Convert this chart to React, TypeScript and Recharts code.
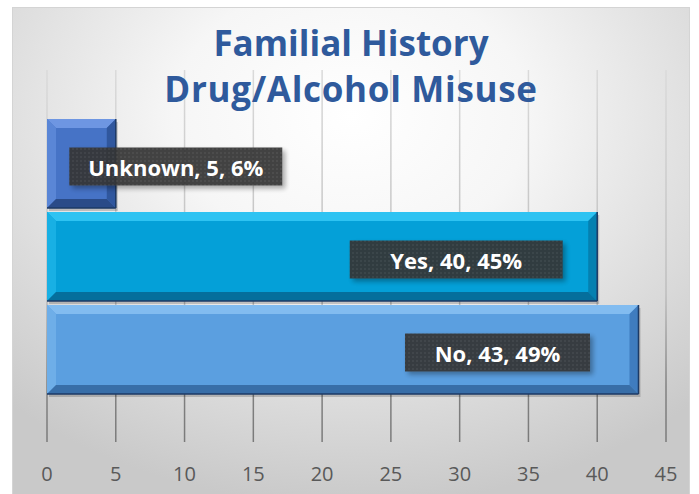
import React from 'react';
import { BarChart, Bar, XAxis, YAxis, CartesianGrid, LabelList } from 'recharts';

const CATEGORIES = ['Unknown', 'Yes', 'No'];
const COUNTS = [5, 40, 43];
const X_TICKS = [0, 5, 10, 15, 20, 25, 30, 35, 40, 45];
const TITLE_LINES = ['Familial History', 'Drug/Alcohol Misuse'];

const TOTAL = COUNTS.reduce((a, b) => a + b, 0);

const chartData = CATEGORIES.map((name, i) => ({
  name,
  value: COUNTS[i],
  pct: Math.round((COUNTS[i] / TOTAL) * 100),
}));

// bevel colours per bar: face, top, left, right, bottom
const BAR_STYLES = [
  { face: '#4673c6', top: '#6e96e2', left: '#5a86d6', right: '#30579e', bottom: '#2a4b88' },
  { face: '#04a0d8', top: '#2ec3f2', left: '#18b0e4', right: '#0580b0', bottom: '#056f9c' },
  { face: '#5b9fe0', top: '#82bcf0', left: '#6eaee8', right: '#3f7cbf', bottom: '#386ea8' },
];

const LABEL_BOX_WIDTH = [213, 213, 185];

const W = 699;
const H = 494;

const BevelBar = (props: any) => {
  const { x, y, width, height, index } = props;
  if (!width || !height) return null;
  const s = BAR_STYLES[index % BAR_STYLES.length];
  const b = Math.min(9, width / 2, height / 2);
  const x2 = x + width;
  const y2 = y + height;
  return (
    <g>
      <rect x={x + 2} y={y + 3} width={width} height={height} fill="#000" opacity={0.18} />
      <rect x={x} y={y} width={width} height={height} fill={s.face} />
      <polygon points={`${x},${y} ${x2},${y} ${x2 - b},${y + b} ${x + b},${y + b}`} fill={s.top} />
      <polygon points={`${x},${y} ${x + b},${y + b} ${x + b},${y2 - b} ${x},${y2}`} fill={s.left} />
      <polygon points={`${x2},${y} ${x2},${y2} ${x2 - b},${y2 - b} ${x2 - b},${y + b}`} fill={s.right} />
      <polygon points={`${x},${y2} ${x + b},${y2 - b} ${x2 - b},${y2 - b} ${x2},${y2}`} fill={s.bottom} />
      <line x1={x} y1={y2} x2={x2} y2={y2} stroke="#1d3a66" strokeWidth={1.5} />
      <line x1={x2} y1={y} x2={x2} y2={y2} stroke="#1d3a66" strokeWidth={1.5} />
    </g>
  );
};

const DataLabel = (props: any) => {
  const vb = props.viewBox || props;
  const x = vb.x ?? props.x;
  const y = vb.y ?? props.y;
  const width = vb.width ?? props.width;
  const height = vb.height ?? props.height;
  const index = props.index ?? 0;
  const d = chartData[index];
  if (!d || x == null) return null;
  const text = `${d.name}, ${d.value}, ${d.pct}%`;
  const boxW = LABEL_BOX_WIDTH[index];
  const boxH = 38;
  // long bars carry the label inside, short ones just to the right
  const cx = width > 300 ? x + width - 141 : x + width + 60;
  const cy = y + height / 2 + 3;
  return (
    <g>
      <rect x={cx - boxW / 2} y={cy - boxH / 2} width={boxW} height={boxH} fill="url(#dotPattern)" opacity={0.93} filter="url(#boxShadow)" />
      <text
        x={cx}
        y={cy}
        textAnchor="middle"
        dominantBaseline="central"
        fill="#ffffff"
        fontFamily="'Open Sans', 'Noto Sans', sans-serif"
        fontWeight={700}
        fontSize={22}
      >
        {text}
      </text>
    </g>
  );
};

export default function App() {
  return (
    <div style={{ position: 'absolute', left: 0, top: 0, width: W, height: H, background: '#ffffff', overflow: 'hidden' }}>
      <div
        style={{
          position: 'absolute',
          left: 12,
          top: 7,
          width: 678,
          height: 490,
          border: '1px solid #d4d4d4',
          boxSizing: 'border-box',
          background: 'radial-gradient(ellipse 75% 80% at 50% 22%, #ffffff 0%, #f6f6f6 35%, #dedede 70%, #c9c9c9 100%)',
        }}
      />
      <div style={{ position: 'absolute', left: 0, top: 0 }}>
        <BarChart
          width={W}
          height={H}
          data={chartData}
          layout="vertical"
          margin={{ top: 70, right: 33, bottom: 22, left: 47 }}
          barCategoryGap={2}
        >
          <defs>
            <linearGradient id="gridGrad" gradientUnits="userSpaceOnUse" x1="0" y1="70" x2="0" y2="442">
              <stop offset="0" stopColor="#dadada" />
              <stop offset="0.6" stopColor="#bdbdbd" />
              <stop offset="0.85" stopColor="#808080" />
              <stop offset="1" stopColor="#7a7a7a" />
            </linearGradient>
            <pattern id="dotPattern" width="4" height="4" patternUnits="userSpaceOnUse">
              <rect width="4" height="4" fill="#363636" />
              <circle cx="1" cy="1" r="0.8" fill="#4c4c4c" />
            </pattern>
            <filter id="boxShadow" x="-10%" y="-30%" width="130%" height="170%">
              <feDropShadow dx="3" dy="3" stdDeviation="2.5" floodColor="#000" floodOpacity="0.35" />
            </filter>
          </defs>
          <CartesianGrid horizontal={false} stroke="url(#gridGrad)" strokeWidth={1.5} />
          <XAxis
            type="number"
            domain={[0, 45]}
            ticks={X_TICKS}
            axisLine={false}
            tickLine={false}
            tickMargin={19}
            tick={{ fill: '#595959', fontSize: 20, fontFamily: "'Open Sans', 'Noto Sans', sans-serif" }}
            interval={0}
          />
          <YAxis type="category" dataKey="name" hide padding={{ top: 47, bottom: 46 }} />
          <Bar dataKey="value" shape={<BevelBar />} isAnimationActive={false}>
            <LabelList dataKey="value" content={<DataLabel />} />
          </Bar>
        </BarChart>
      </div>
      <div
        style={{
          position: 'absolute',
          left: 12,
          top: 20,
          width: 678,
          textAlign: 'center',
          fontFamily: "'Open Sans', 'Noto Sans', sans-serif",
          fontWeight: 700,
          fontSize: 35,
          lineHeight: '46px',
          color: '#2f5a9c',
        }}
      >
        {TITLE_LINES.map((t, i) => (
          <div key={t} style={{ letterSpacing: i === 1 ? 0.7 : 0 }}>{t}</div>
        ))}
      </div>
    </div>
  );
}
